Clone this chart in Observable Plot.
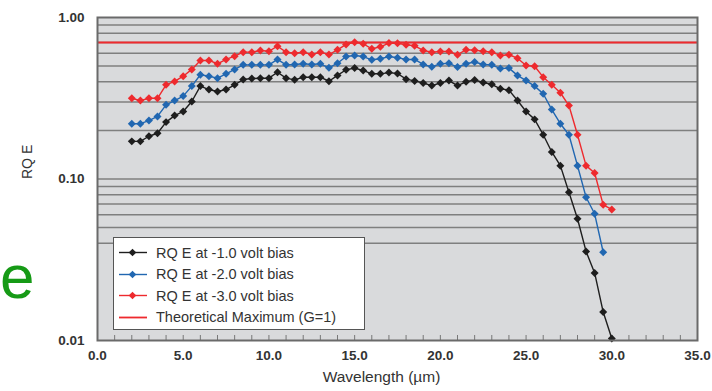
<!DOCTYPE html>
<html>
<head>
<meta charset="utf-8">
<script src="https://cdn.jsdelivr.net/npm/d3@7"></script>
<script src="https://cdn.jsdelivr.net/npm/@observablehq/plot@0.6"></script>
<style>
  html, body { margin: 0; padding: 0; background: #fff; }
  #wrap { position: relative; width: 712px; height: 391px; overflow: hidden; font-family: "Liberation Sans", Arial, sans-serif; }
  #green { position: absolute; left: 0px; top: 245px; font-size: 62px; line-height: 64px; color: #169a16; font-family: "Liberation Sans", Arial, sans-serif; }
  #legend { position: absolute; left: 113px; top: 237px; width: 252px; height: 93px; background: #fff; border: 1.5px solid #555; box-sizing: border-box; padding-top: 4px; }
  .row { display: flex; align-items: center; height: 21.5px; font-size: 14.5px; color: #333; }
  .row svg { margin-left: 4px; margin-right: 8px; }
</style>
</head>
<body>
<div id="wrap">
  <div id="chart"></div>
  <div id="green">e</div>
  <div id="legend"></div>
</div>
<script>
const wavelength = [2.0,2.5,3.0,3.5,4.0,4.5,5.0,5.5,6.0,6.5,7.0,7.5,8.0,8.5,9.0,9.5,10.0,10.5,11.0,11.5,12.0,12.5,13.0,13.5,14.0,14.5,15.0,15.5,16.0,16.5,17.0,17.5,18.0,18.5,19.0,19.5,20.0,20.5,21.0,21.5,22.0,22.5,23.0,23.5,24.0,24.5,25.0,25.5,26.0,26.5,27.0,27.5,28.0,28.5,29.0,29.5,30.0];

const rqe1 = [0.171,0.171,0.184,0.192,0.225,0.247,0.262,0.302,0.376,0.358,0.348,0.358,0.383,0.413,0.419,0.421,0.421,0.458,0.421,0.411,0.427,0.427,0.427,0.403,0.438,0.475,0.486,0.470,0.448,0.448,0.456,0.450,0.415,0.405,0.393,0.379,0.393,0.407,0.379,0.400,0.410,0.396,0.386,0.362,0.355,0.306,0.262,0.234,0.188,0.147,0.121,0.0828,0.0567,0.0356,0.0262,0.0150,0.0103];

const rqe2 = [0.220,0.220,0.230,0.244,0.288,0.306,0.326,0.376,0.442,0.433,0.421,0.448,0.477,0.509,0.509,0.509,0.509,0.550,0.509,0.512,0.517,0.512,0.517,0.488,0.521,0.573,0.582,0.573,0.547,0.555,0.573,0.563,0.550,0.550,0.512,0.495,0.517,0.520,0.493,0.517,0.530,0.512,0.509,0.483,0.486,0.438,0.407,0.376,0.337,0.269,0.220,0.188,0.121,0.0771,0.0609,0.0352];

const rqe3 = [0.316,0.306,0.316,0.316,0.383,0.402,0.433,0.477,0.542,0.542,0.517,0.550,0.576,0.610,0.610,0.625,0.618,0.664,0.610,0.601,0.610,0.590,0.610,0.590,0.631,0.681,0.703,0.688,0.640,0.658,0.695,0.693,0.678,0.668,0.625,0.610,0.616,0.616,0.588,0.632,0.628,0.618,0.610,0.582,0.588,0.560,0.505,0.499,0.427,0.383,0.342,0.285,0.188,0.121,0.109,0.0692,0.0648];

const theoreticalMax = 0.70;

const seriesNames = ["RQ E at -1.0 volt bias", "RQ E at -2.0 volt bias", "RQ E at -3.0 volt bias", "Theoretical Maximum (G=1)"];
const seriesColors = ["#1e1e1e", "#2167b1", "#ee2a2e", "#ee2a2e"];

const xTicks = [0, 5, 10, 15, 20, 25, 30, 35];
const xMinorTicks = [1,2,3,4,5,6,7,8,9,10,11,12,13,14,15,16,17,18,19,20,21,22,23,24,25,26,27,28,29,30,31,32,33,34];
const yTicks = [0.01, 0.1, 1];
const yGrid = [0.04,0.05,0.06,0.07,0.08,0.09,0.1,0.2,0.3,0.4,0.5,0.6,0.7,0.8,0.9];
const xLabel = "Wavelength (µm)";
const yLabel = "RQ E";

const rows = [];
[rqe1, rqe2, rqe3].forEach((arr, s) => {
  arr.forEach((v, i) => rows.push({series: seriesNames[s], x: wavelength[i], y: v}));
});

const chart = Plot.plot({
  width: 712,
  height: 391,
  marginLeft: 97,
  marginRight: 15,
  marginTop: 17,
  marginBottom: 51,
  style: {fontFamily: "Liberation Sans, Arial, sans-serif", background: "transparent"},
  x: {domain: [0, 35]},
  y: {type: "log", domain: [0.01, 1]},
  color: {domain: seriesNames, range: seriesColors},
  marks: [
    Plot.frame({fill: "#d9dadc", stroke: null}),
    Plot.ruleY(yGrid, {stroke: "#7f7f7f", strokeWidth: 1.5}),
    Plot.ruleY([theoreticalMax], {stroke: seriesColors[3], strokeWidth: 1.8}),
    Plot.tickX(xMinorTicks, {x: d => d, stroke: "#777", strokeWidth: 1, insetTop: 318}),
    Plot.line(rows, {x: "x", y: "y", z: "series", stroke: "series", strokeWidth: 1.4}),
    Plot.dot(rows, {x: "x", y: "y", fill: "series", symbol: "diamond2", r: 3.6, stroke: null}),
    Plot.frame({stroke: "#6a6a6a", strokeWidth: 2}),
    Plot.axisX({ticks: xTicks, tickSize: 0, tickPadding: 10, tickFormat: d3.format(".1f"), fontSize: 13.5, fontWeight: "bold", fill: "#333", label: null}),
    Plot.axisY({ticks: yTicks, tickSize: 0, tickPadding: 13, tickFormat: d3.format(".2f"), fontSize: 13.5, fontWeight: "bold", fill: "#333", label: null}),
    Plot.text([xLabel], {text: d => d, frameAnchor: "bottom", dy: 41, dx: -16, fontSize: 15.5, fill: "#333"}),
    Plot.text([yLabel], {text: d => d, frameAnchor: "left", dx: -70, rotate: -90, fontSize: 14, fill: "#333"})
  ]
});
document.getElementById("chart").appendChild(chart);

const legend = document.getElementById("legend");
seriesNames.forEach((name, i) => {
  const row = document.createElement("div");
  row.className = "row";
  const marker = i < 3 ? `<path d="M14.5,2.7 L18.3,6.5 L14.5,10.3 L10.7,6.5 Z" fill="${seriesColors[i]}"/>` : "";
  row.innerHTML = `<svg width="30" height="13"><line x1="1" x2="29" y1="6.5" y2="6.5" stroke="${seriesColors[i]}" stroke-width="${i < 3 ? 1.4 : 1.8}"/>${marker}</svg><span>${name}</span>`;
  legend.appendChild(row);
});
</script>
</body>
</html>
